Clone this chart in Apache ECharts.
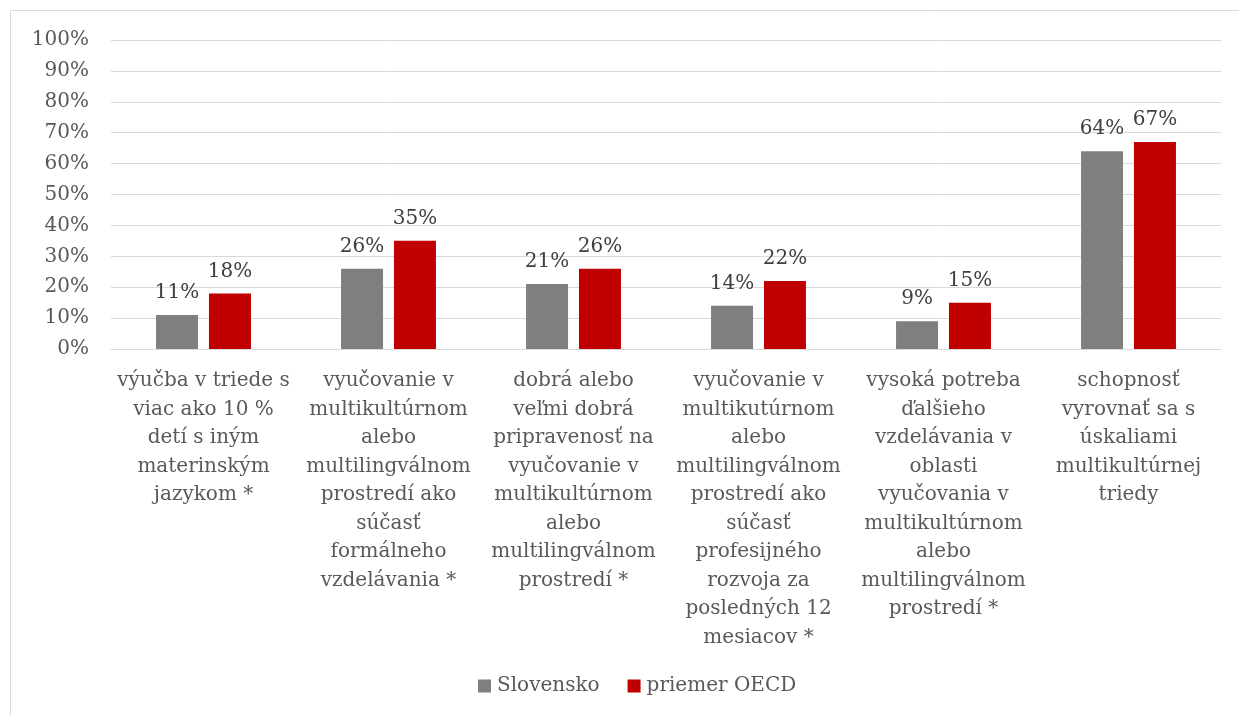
<!DOCTYPE html>
<html>
<head>
<meta charset="utf-8">
<script src="https://cdn.jsdelivr.net/npm/echarts@6/dist/echarts.min.js"></script>
<style>
  html, body { margin: 0; padding: 0; background: #fff; }
  #chart { width: 1239px; height: 715px; }
</style>
</head>
<body>
<div id="chart"></div>
<script>
// kategórie (zalomenie riadkov ako v origináli)
const categories = [
  'výučba v triede s\nviac ako 10 %\ndetí s iným\nmaterinským\njazykom *',
  'vyučovanie v\nmultikultúrnom\nalebo\nmultilingválnom\nprostredí ako\nsúčasť\nformálneho\nvzdelávania *',
  'dobrá alebo\nveľmi dobrá\npripravenosť na\nvyučovanie v\nmultikultúrnom\nalebo\nmultilingválnom\nprostredí *',
  'vyučovanie v\nmultikutúrnom\nalebo\nmultilingválnom\nprostredí ako\nsúčasť\nprofesijného\nrozvoja za\nposledných 12\nmesiacov *',
  'vysoká potreba\nďalšieho\nvzdelávania v\noblasti\nvyučovania v\nmultikultúrnom\nalebo\nmultilingválnom\nprostredí *',
  'schopnosť\nvyrovnať sa s\núskaliami\nmultikultúrnej\ntriedy'
]
const slovensko = [11, 26, 21, 14, 9, 64]
const oecd = [18, 35, 26, 22, 15, 67]
const seriesNames = ['Slovensko', 'priemer OECD']

const font = 'DejaVu Serif'
const textColor = '#595959'

const chart = echarts.init(document.getElementById('chart'), null, {renderer: 'canvas'})

const label = {
  show: true,
  position: 'top',
  distance: 12,
  formatter: p => p.value + '%',
  fontFamily: font,
  fontSize: 20,
  color: '#404040'
}

chart.setOption({
  animation: false,
  graphic: [{
    type: 'rect',
    shape: {x: 10.5, y: 10.5, width: 1300, height: 800},
    style: {fill: 'none', stroke: '#d9d9d9', lineWidth: 1},
    silent: true
  }],
  grid: {
    left: 111,
    right: 18,
    top: 40,
    bottom: 366
  },
  legend: {
    bottom: 14,
    left: 473,
    itemWidth: 13,
    itemHeight: 13,
    itemGap: 28,
    icon: 'rect',
    textStyle: {fontFamily: font, fontSize: 20, color: textColor, padding: [0, 0, 0, 1]},
    data: seriesNames
  },
  xAxis: {
    type: 'category',
    data: categories,
    axisTick: {show: false},
    axisLine: {lineStyle: {color: '#d9d9d9', width: 1}},
    axisLabel: {
      interval: 0,
      margin: 18,
      fontFamily: font,
      fontSize: 20,
      lineHeight: 28.5,
      color: textColor,
      align: 'center'
    }
  },
  yAxis: {
    type: 'value',
    min: 0,
    max: 100,
    interval: 10,
    axisLine: {show: false},
    axisTick: {show: false},
    splitLine: {lineStyle: {color: '#d9d9d9', width: 1}},
    axisLabel: {
      formatter: '{value}%',
      margin: 22,
      fontFamily: font,
      fontSize: 20,
      color: textColor
    }
  },
  series: [
    {
      name: seriesNames[0],
      type: 'bar',
      data: slovensko,
      barWidth: 42,
      barGap: '26%',
      itemStyle: {color: '#7f7f7f'},
      label: label
    },
    {
      name: seriesNames[1],
      type: 'bar',
      data: oecd,
      barWidth: 42,
      itemStyle: {color: '#c00000'},
      label: label
    }
  ]
})
</script>
</body>
</html>
